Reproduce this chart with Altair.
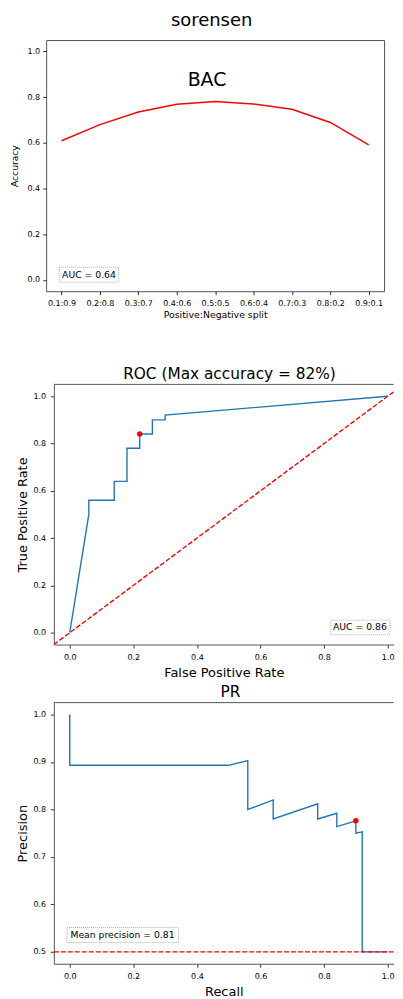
import altair as alt
import pandas as pd

FONT = "DejaVu Sans"
BLUE = "#1f77b4"
RED = "#ff0000"
FRAME = "#555555"

# ---- data ----
splits = ["0.1:0.9", "0.2:0.8", "0.3:0.7", "0.4:0.6", "0.5:0.5",
          "0.6:0.4", "0.7:0.3", "0.8:0.2", "0.9:0.1"]
accuracy = [0.609, 0.680, 0.735, 0.769, 0.781, 0.770, 0.747, 0.689, 0.591]

roc_fpr = [0.0, 0.06, 0.06, 0.14, 0.14, 0.18, 0.18, 0.22, 0.22, 0.26, 0.26, 0.30, 0.30, 1.0]
roc_tpr = [0.0, 0.50, 0.56, 0.56, 0.64, 0.64, 0.78, 0.78, 0.84, 0.84, 0.90, 0.90, 0.92, 1.0]
roc_best_fpr = [0.22]
roc_best_tpr = [0.84]

pr_recall = [0.0, 0.0, 0.50, 0.56, 0.56, 0.64, 0.64, 0.78, 0.78, 0.84, 0.84,
             0.90, 0.90, 0.92, 0.92, 1.0]
pr_precision = [1.0, 0.893, 0.893, 0.903, 0.800, 0.820, 0.780, 0.812, 0.780, 0.792, 0.764,
                0.776, 0.750, 0.753, 0.500, 0.500]
pr_best_recall = [0.90]
pr_best_precision = [0.776]

chance_line = [-0.05, 1.05]
baseline_precision = [0.5]


def axis(**kw):
    base = dict(grid=False, domain=False, ticks=True, tickColor="#000", tickSize=3.5,
                tickWidth=0.8, labelFont=FONT, labelFontSize=8, labelColor="#000",
                labelPadding=3, titleFont=FONT, titleFontWeight="normal", titleColor="#000")
    base.update(kw)
    return alt.Axis(**base)


one = alt.Data(values=[{}])
framed = dict(domain=True, domainColor=FRAME, domainWidth=1)

# ---- top: accuracy vs split ----
top_df = pd.DataFrame({"pos": list(range(1, len(splits) + 1)), "split": splits, "acc": accuracy})
lbl = "[" + ",".join(repr(s) for s in splits) + "][round(datum.value) - 1]"
xs_top = alt.Scale(domain=[0.6, 9.4], nice=False, zero=False)
ys_top = alt.Scale(domain=[-0.05, 1.05], nice=False, zero=False)

top_line = alt.Chart(top_df).mark_line(color=RED, strokeWidth=1.4).encode(
    x=alt.X("pos:Q", scale=xs_top,
            axis=axis(values=list(range(1, 10)), labelExpr=lbl, labelPadding=4.5,
                      title="Positive:Negative split", titleFontSize=9.4, titlePadding=3.5)),
    y=alt.Y("acc:Q", scale=ys_top,
            axis=axis(values=[0, 0.2, 0.4, 0.6, 0.8, 1.0], format=".1f",
                      title="Accuracy", titleFontSize=9.2, titlePadding=7.6)),
)
top_bac = alt.Chart(one).mark_text(text="BAC", font=FONT, fontSize=19, color="#000").encode(
    x=alt.datum(4.79), y=alt.datum(0.873))
top_box = alt.Chart(one).mark_rect(fill="white", stroke="#b0b0b0", strokeDash=[1, 1],
                                   strokeWidth=1).encode(
    x=alt.datum(0.94), x2=alt.datum(2.48), y=alt.datum(0.055), y2=alt.datum(-0.0105))
top_txt = alt.Chart(one).mark_text(text="AUC = 0.64", font=FONT, fontSize=9.3, color="#000",
                                   align="left").encode(
    x=alt.datum(1.015), y=alt.datum(0.023))

top = alt.layer(top_line, top_bac, top_box, top_txt).properties(
    width=339, height=252,
    view=alt.ViewBackground(stroke=FRAME, strokeWidth=1),
    title=alt.TitleParams("sorensen", font=FONT, fontSize=18, fontWeight="normal",
                          color="#000", anchor="middle", frame="group", baseline="alphabetic",
                          offset=-4.3, dx=-3.5))

# ---- middle: ROC (right edge cut off like the reference) ----
XMAX = 1.019
xs_m = alt.Scale(domain=[-0.05, XMAX], nice=False, zero=False)
ys_m = alt.Scale(domain=[-0.05, 1.05], nice=False, zero=False)
roc_df = pd.DataFrame({"fpr": roc_fpr, "tpr": roc_tpr, "o": list(range(len(roc_fpr)))})
ax_x_m = axis(values=[0, 0.2, 0.4, 0.6, 0.8, 1.0], format=".1f", labelPadding=5.5,
              title="False Positive Rate", titleFontSize=13, titlePadding=5.5, **framed)
ax_y_m = axis(values=[0, 0.2, 0.4, 0.6, 0.8, 1.0], format=".1f", labelPadding=4.8,
              title="True Positive Rate", titleFontSize=13, titlePadding=3.1, **framed)

diag = alt.Chart(pd.DataFrame({"v": chance_line})).mark_line(
    color=RED, strokeDash=[5, 2], strokeWidth=1.4, clip=True).encode(
    x=alt.X("v:Q", scale=xs_m, axis=ax_x_m), y=alt.Y("v:Q", scale=ys_m, axis=ax_y_m))
roc_line = alt.Chart(roc_df).mark_line(color=BLUE, strokeWidth=1.4).encode(
    x="fpr:Q", y="tpr:Q", order="o:Q")
roc_best = alt.Chart(pd.DataFrame({"fpr": roc_best_fpr, "tpr": roc_best_tpr})).mark_circle(
    color=RED, size=30, opacity=1).encode(x="fpr:Q", y="tpr:Q")
roc_box = alt.Chart(one).mark_rect(fill="white", stroke="#b0b0b0", strokeDash=[1, 1],
                                   strokeWidth=1).encode(
    x=alt.datum(0.821), x2=alt.datum(1.0075), y=alt.datum(0.053), y2=alt.datum(-0.0084))
roc_txt = alt.Chart(one).mark_text(text="AUC = 0.86", font=FONT, fontSize=9.3, color="#000",
                                   align="left").encode(
    x=alt.datum(0.828), y=alt.datum(0.022))
roc_topline = alt.Chart(one).mark_rule(color=FRAME, strokeWidth=1).encode(y=alt.datum(1.05))

mid = alt.layer(diag, roc_line, roc_best, roc_box, roc_txt, roc_topline).properties(
    width=341, height=261,
    view=alt.ViewBackground(stroke="transparent"),
    title=alt.TitleParams("ROC (Max accuracy = 82%)", font=FONT, fontSize=15.4,
                          fontWeight="normal", color="#000", anchor="middle", frame="group",
                          baseline="alphabetic", offset=-10.5, dx=5.7))

# ---- bottom: PR ----
ys_b = alt.Scale(domain=[0.475, 1.025], nice=False, zero=False)
pr_df = pd.DataFrame({"r": pr_recall, "p": pr_precision, "o": list(range(len(pr_recall)))})
pr_line = alt.Chart(pr_df).mark_line(color=BLUE, strokeWidth=1.4).encode(
    x=alt.X("r:Q", scale=xs_m,
            axis=axis(values=[0, 0.2, 0.4, 0.6, 0.8, 1.0], format=".1f", labelPadding=5,
                      title="Recall", titleFontSize=13, titlePadding=5, **framed)),
    y=alt.Y("p:Q", scale=ys_b,
            axis=axis(values=[0.5, 0.6, 0.7, 0.8, 0.9, 1.0], format=".1f", labelPadding=4.8,
                      title="Precision", titleFontSize=13, titlePadding=3.1, **framed)),
    order="o:Q")
pr_base = alt.Chart(pd.DataFrame({"b": baseline_precision})).mark_rule(
    color=RED, strokeDash=[5, 2], strokeWidth=1.4).encode(y="b:Q")
pr_best = alt.Chart(pd.DataFrame({"r": pr_best_recall, "p": pr_best_precision})).mark_circle(
    color=RED, size=30, opacity=1).encode(x="r:Q", y="p:Q")
pr_box = alt.Chart(one).mark_rect(fill="white", stroke="#b0b0b0", strokeDash=[1, 1],
                                  strokeWidth=1).encode(
    x=alt.datum(-0.0085), x2=alt.datum(0.342), y=alt.datum(0.5513), y2=alt.datum(0.5198))
pr_txt = alt.Chart(one).mark_text(text="Mean precision = 0.81", font=FONT, fontSize=9.3,
                                  color="#000", align="left").encode(
    x=alt.datum(0.0022), y=alt.datum(0.5356))
pr_topline = alt.Chart(one).mark_rule(color=FRAME, strokeWidth=1).encode(y=alt.datum(1.025))

bot = alt.layer(pr_line, pr_base, pr_best, pr_box, pr_txt, pr_topline).properties(
    width=341, height=262,
    view=alt.ViewBackground(stroke="transparent"),
    title=alt.TitleParams("PR", font=FONT, fontSize=15.4, fontWeight="normal", color="#000",
                          anchor="middle", frame="group", baseline="alphabetic", offset=-10.5,
                          dx=6.6))


def spacer():
    return alt.Chart(one).mark_point(opacity=0).encode(
        x=alt.value(0), y=alt.value(0)).properties(
        width=1, height=1, view=alt.ViewBackground(stroke="transparent"))


h_mid = alt.hconcat(spacer(), mid, spacing=6.7, bounds="flush")
h_bot = alt.hconcat(spacer(), bot, spacing=6.7, bounds="flush")
lower = alt.concat(h_mid, h_bot, columns=1, align="none", spacing=4.3)
chart = alt.concat(top, lower, columns=1, align="none", spacing=46.5).properties(
    padding={"left": 1.3, "top": 1.5, "right": 0, "bottom": 0}
)

chart.save("out.html", embed_options={"renderer": "svg", "actions": False})
